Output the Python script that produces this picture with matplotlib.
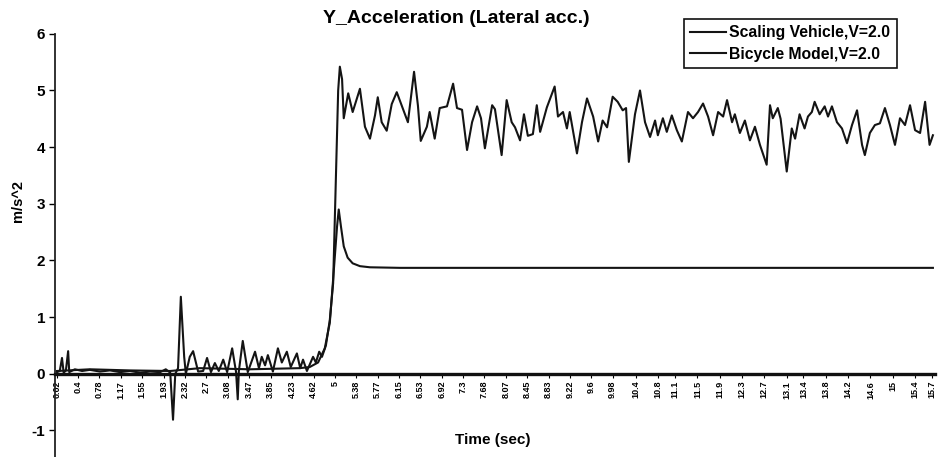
import matplotlib
matplotlib.use("Agg")
import matplotlib.pyplot as plt

plt.rcParams['font.family'] = ['Liberation Sans', 'DejaVu Sans']
plt.rcParams['font.weight'] = 'bold'

# Scaling vehicle (noisy trace), time in s, acceleration in m/s^2
t_scaling = [0.02, 0.07, 0.11, 0.14, 0.18, 0.22, 0.24, 0.34, 0.47, 0.61,
             0.79, 0.97, 1.15, 1.33, 1.51, 1.69, 1.87, 1.97, 2.05, 2.10,
             2.14, 2.19, 2.24, 2.30, 2.33, 2.40, 2.46, 2.55, 2.64, 2.71,
             2.78, 2.85, 2.92, 3.00, 3.07, 3.16, 3.23, 3.26, 3.28, 3.35,
             3.44, 3.57, 3.64, 3.69, 3.75, 3.80, 3.89, 3.98, 4.05, 4.14,
             4.21, 4.32, 4.38, 4.43, 4.50, 4.61, 4.66, 4.72, 4.77, 4.84,
             4.91, 4.97, 5.02, 5.06, 5.09, 5.13, 5.16, 5.24, 5.32, 5.45,
             5.54, 5.63, 5.72, 5.77, 5.84, 5.93, 6.02, 6.11, 6.20, 6.31,
             6.42, 6.49, 6.54, 6.65, 6.70, 6.79, 6.88, 7.01, 7.12, 7.19,
             7.28, 7.37, 7.46, 7.55, 7.62, 7.69, 7.82, 7.87, 7.99, 8.08,
             8.17, 8.23, 8.32, 8.39, 8.46, 8.55, 8.62, 8.68, 8.80, 8.94,
             9.00, 9.09, 9.16, 9.21, 9.34, 9.43, 9.52, 9.63, 9.72, 9.80,
             9.88, 9.98, 10.07, 10.16, 10.22, 10.27, 10.38, 10.47, 10.56, 10.65,
             10.74, 10.79, 10.88, 10.95, 11.04, 11.13, 11.22, 11.33, 11.42, 11.51,
             11.60, 11.69, 11.78, 11.87, 11.96, 12.03, 12.12, 12.17, 12.26, 12.35,
             12.44, 12.53, 12.62, 12.74, 12.80, 12.85, 12.94, 12.99, 13.10, 13.19,
             13.25, 13.33, 13.42, 13.48, 13.55, 13.60, 13.69, 13.78, 13.84, 13.91,
             14.00, 14.09, 14.18, 14.27, 14.36, 14.45, 14.50, 14.59, 14.68, 14.77,
             14.86, 14.95, 15.04, 15.13, 15.22, 15.31, 15.40, 15.49, 15.58, 15.66,
             15.72]
a_scaling = [0.03, 0.05, 0.28, 0.02, 0.06, 0.40, 0.03, 0.08, 0.05, 0.07,
             0.04, 0.06, 0.03, 0.05, 0.02, 0.04, 0.03, 0.08, 0.02, -0.81,
             0.00, 0.10, 1.36, 0.30, 0.00, 0.30, 0.40, 0.04, 0.05, 0.28,
             0.03, 0.19, 0.05, 0.25, 0.03, 0.45, 0.03, -0.45, 0.05, 0.58,
             0.03, 0.39, 0.10, 0.30, 0.15, 0.33, 0.04, 0.45, 0.20, 0.39,
             0.12, 0.36, 0.10, 0.25, 0.05, 0.30, 0.20, 0.39, 0.30, 0.50,
             0.95, 1.60, 3.50, 5.00, 5.42, 5.20, 4.51, 4.95, 4.62, 5.03,
             4.36, 4.15, 4.56, 4.88, 4.44, 4.29, 4.76, 4.97, 4.73, 4.44,
             5.33, 4.73, 4.11, 4.36, 4.62, 4.15, 4.69, 4.72, 5.12, 4.69,
             4.66, 3.95, 4.44, 4.72, 4.51, 3.98, 4.74, 4.67, 3.86, 4.83,
             4.44, 4.35, 4.12, 4.58, 4.20, 4.23, 4.74, 4.27, 4.70, 5.07,
             4.54, 4.62, 4.33, 4.62, 3.89, 4.44, 4.86, 4.54, 4.10, 4.47,
             4.35, 4.89, 4.80, 4.65, 4.69, 3.74, 4.58, 5.00, 4.44, 4.18,
             4.47, 4.21, 4.51, 4.27, 4.56, 4.30, 4.10, 4.62, 4.51, 4.62,
             4.77, 4.54, 4.21, 4.62, 4.54, 4.83, 4.44, 4.58, 4.25, 4.47,
             4.12, 4.36, 4.04, 3.69, 4.74, 4.51, 4.69, 4.50, 3.57, 4.33,
             4.15, 4.58, 4.33, 4.54, 4.62, 4.80, 4.58, 4.72, 4.54, 4.72,
             4.44, 4.33, 4.07, 4.39, 4.65, 4.04, 3.86, 4.25, 4.39, 4.42,
             4.69, 4.39, 4.04, 4.51, 4.39, 4.74, 4.30, 4.25, 4.80, 4.04,
             4.21]

# Bicycle model (smooth trace)
t_bicycle = [0.02, 0.61, 1.33, 2.05, 2.58, 3.48, 4.37, 4.55, 4.70, 4.82,
             4.91, 4.98, 5.04, 5.07, 5.11, 5.16, 5.23, 5.32, 5.45, 5.63,
             6.17, 15.72]
a_bicycle = [0.05, 0.08, 0.06, 0.05, 0.10, 0.08, 0.10, 0.12, 0.20, 0.45,
             0.90, 1.80, 2.60, 2.90, 2.60, 2.25, 2.05, 1.95, 1.90, 1.88,
             1.87, 1.87]

x_tick_labels = ["0.02", "0.4", "0.78", "1.17", "1.55", "1.93", "2.32", "2.7",
                 "3.08", "3.47", "3.85", "4.23", "4.62", "5", "5.38", "5.77",
                 "6.15", "6.53", "6.92", "7.3", "7.68", "8.07", "8.45", "8.83",
                 "9.22", "9.6", "9.98", "10.4", "10.8", "11.1", "11.5", "11.9",
                 "12.3", "12.7", "13.1", "13.4", "13.8", "14.2", "14.6", "15",
                 "15.4", "15.7"]
y_ticks = [-1, 0, 1, 2, 3, 4, 5, 6]

fig = plt.figure(figsize=(9.38, 4.57), dpi=100)
ax = fig.add_axes([0.0586, -0.004, 0.938, 0.930])

line_color = '#141414'
ax.plot(t_scaling, a_scaling, color=line_color, lw=1.5, solid_joinstyle='round',
        label='Scaling Vehicle,V=2.0')
ax.plot(t_bicycle, a_bicycle, color=line_color, lw=1.5, solid_joinstyle='round',
        label='Bicycle Model,V=2.0')

ax.set_xlim(-0.016, 15.754)
ax.set_ylim(-1.5, 6)

for s in ['top', 'right']:
    ax.spines[s].set_visible(False)
ax.spines['bottom'].set_position(('data', 0))
ax.spines['bottom'].set_linewidth(2.4)
ax.spines['bottom'].set_color('#111111')
ax.spines['left'].set_linewidth(1.3)
ax.spines['left'].set_color('#222222')

tick_pos = [float(s) for s in x_tick_labels]
ax.set_xticks(tick_pos)
ax.set_xticklabels(x_tick_labels, rotation=90, fontsize=6.5, fontweight='bold')
ax.tick_params(axis='x', length=3, width=0.8, pad=2)
ax.set_yticks(y_ticks)
ax.set_yticklabels([str(v) for v in y_ticks], fontsize=11, fontweight='bold')
ax.tick_params(axis='y', length=4, width=1, pad=3)

fig.text(0.525, 0.038, 'Time (sec)', ha='center', va='center', fontsize=11, fontweight='bold')
fig.text(0.019, 0.56, 'm/s^2', ha='center', va='center', rotation=90, fontsize=10.5, fontweight='bold')
fig.text(0.486, 0.96, 'Y_Acceleration (Lateral acc.)', ha='center', va='center', fontsize=14, fontweight='bold')

leg = fig.legend(loc='upper left', bbox_to_anchor=(0.729, 0.958), fontsize=11.3,
                 handlelength=2.3, handletextpad=0.2, borderpad=0.4, labelspacing=0.4,
                 fancybox=False, framealpha=1, edgecolor='#111111', borderaxespad=0)
leg.get_frame().set_linewidth(1.2)
for txt in leg.get_texts():
    txt.set_fontweight('bold')

fig.savefig('out.png', dpi=100)
